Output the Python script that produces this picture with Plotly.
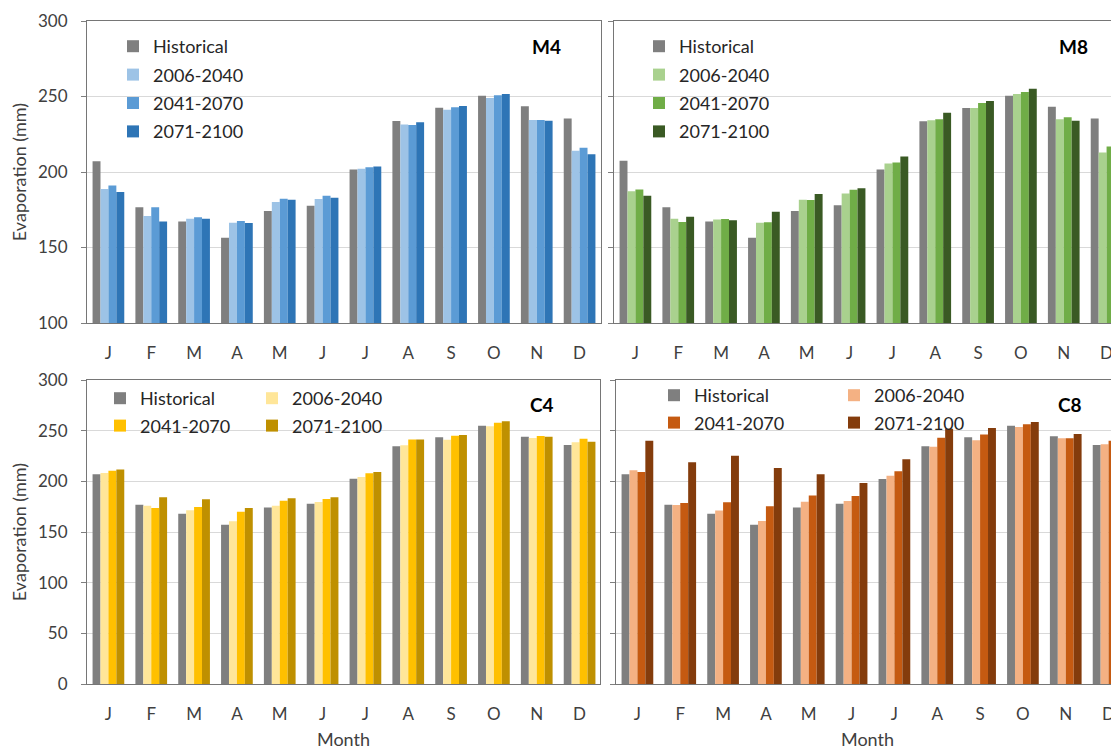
import plotly.graph_objects as go

months = ["J", "F", "M", "A", "M", "J", "J", "A", "S", "O", "N", "D"]
series_names = ["Historical", "2006-2040", "2041-2070", "2071-2100"]

# M4 panel
m4_hist = [207.2, 176.6, 167.3, 156.5, 174.1, 177.7, 201.6, 233.8, 242.6, 250.5, 243.5, 235.5]
m4_2006 = [188.7, 170.8, 169.1, 166.4, 180.1, 182.1, 202.1, 231.4, 241.3, 249.0, 234.4, 214.0]
m4_2041 = [191.1, 176.6, 170.0, 167.5, 182.3, 184.3, 203.2, 231.1, 242.8, 250.9, 234.4, 216.0]
m4_2071 = [186.7, 167.3, 169.1, 166.2, 181.6, 182.9, 203.6, 232.9, 243.7, 251.6, 234.0, 211.8]

# M8 panel
m8_hist = [207.4, 176.6, 167.3, 156.5, 174.1, 177.9, 201.6, 233.6, 242.4, 250.5, 243.2, 235.5]
m8_2006 = [187.3, 169.1, 168.6, 166.4, 181.6, 185.8, 205.6, 234.2, 242.4, 251.6, 234.9, 212.9]
m8_2041 = [188.4, 166.9, 168.9, 166.7, 181.4, 188.2, 206.3, 234.9, 245.7, 252.9, 236.2, 216.9]
m8_2071 = [184.3, 170.4, 168.0, 173.7, 185.4, 189.3, 210.2, 239.3, 247.0, 255.1, 234.0, 209.8]

# C4 panel
c4_hist = [206.9, 177.0, 168.1, 157.2, 174.3, 178.0, 202.6, 234.5, 243.4, 254.9, 244.1, 235.9]
c4_2006 = [208.2, 176.0, 171.4, 160.5, 176.0, 179.6, 204.3, 235.5, 241.1, 254.3, 242.8, 238.5]
c4_2041 = [210.5, 173.7, 174.7, 170.1, 180.9, 182.6, 207.9, 241.4, 245.1, 257.9, 244.7, 242.1]
c4_2071 = [211.8, 184.2, 182.2, 173.7, 183.2, 184.2, 209.2, 241.4, 245.7, 259.2, 244.1, 239.1]

# C8 panel
c8_hist = [206.9, 177.0, 168.1, 157.2, 174.3, 178.0, 202.3, 234.5, 243.4, 254.9, 244.4, 235.9]
c8_2006 = [210.9, 176.6, 171.1, 160.9, 179.9, 180.6, 205.6, 234.2, 240.5, 253.6, 242.4, 236.5]
c8_2041 = [209.2, 178.6, 179.3, 175.3, 185.9, 185.5, 209.9, 243.1, 246.1, 256.3, 242.4, 240.1]
c8_2071 = [240.1, 218.8, 225.3, 213.2, 206.9, 198.4, 221.7, 252.0, 252.6, 258.6, 246.7, 250.3]

panel_labels = ["M4", "M8", "C4", "C8"]
y_ticks_top = [100, 150, 200, 250, 300]
y_ticks_bottom = [0, 50, 100, 150, 200, 250, 300]

gray = "#7f7f7f"
colors = {
    "M4": [gray, "#9dc3e6", "#5b9bd5", "#2e75b6"],
    "M8": [gray, "#a9d18e", "#70ad47", "#3a5a24"],
    "C4": [gray, "#ffe699", "#ffc000", "#bf9000"],
    "C8": [gray, "#f4b183", "#c55a11", "#843c0c"],
}
data = {
    "M4": [m4_hist, m4_2006, m4_2041, m4_2071],
    "M8": [m8_hist, m8_2006, m8_2041, m8_2071],
    "C4": [c4_hist, c4_2006, c4_2041, c4_2071],
    "C8": [c8_hist, c8_2006, c8_2041, c8_2071],
}

# the page body adds an 8px offset; size the figure to fill the rest of the window
OFF = 8
W, H = 1119 - OFF, 750 - OFF
FONT = "Lato"
xpos = list(range(12))


def fx(px):
    return (px - OFF) / W


def fy(py):
    return (H - (py - OFF)) / H


# panel geometry (reference screenshot pixels)
panels = {
    "M4": dict(ax="", x0=87, x1=601, ytop=21, ybot=323, rng=[100, 300], ticks=y_ticks_top),
    "M8": dict(ax="2", x0=614, x1=1119, ytop=21, ybot=323, rng=[100, 300], ticks=y_ticks_top),
    "C4": dict(ax="3", x0=87, x1=600, ytop=380, ybot=684, rng=[0, 300], ticks=y_ticks_bottom),
    "C8": dict(ax="4", x0=616, x1=1119, ytop=380, ybot=684, rng=[0, 300], ticks=y_ticks_bottom),
}
catw = (601 - 87) / 12.0

legend_map = {
    "M4": ["legend", "legend", "legend", "legend"],
    "M8": ["legend2", "legend2", "legend2", "legend2"],
    "C4": ["legend3", "legend4", "legend3", "legend4"],
    "C8": ["legend5", "legend6", "legend5", "legend6"],
}

fig = go.Figure()
for name in panel_labels:
    p = panels[name]
    for i, s in enumerate(series_names):
        fig.add_trace(go.Bar(
            x=xpos, y=data[name][i], name=s,
            marker=dict(color=colors[name][i], line=dict(width=0)),
            xaxis="x" + p["ax"], yaxis="y" + p["ax"],
            legend=legend_map[name][i],
            legendgroup=name + s,
            showlegend=True,
        ))

layout = dict(
    width=W, height=H,
    margin=dict(l=0, r=0, t=0, b=0, autoexpand=False),
    paper_bgcolor="white", plot_bgcolor="white",
    barmode="group", bargap=0.26, bargroupgap=0,
    font=dict(family=FONT, size=16, color="#404040"),
    showlegend=True,
)

annotations = []
for name in panel_labels:
    p = panels[name]
    ax = p["ax"]
    right_panel = name in ("M8", "C8")
    width_px = p["x1"] - p["x0"]
    xr = [-0.5, -0.5 + width_px / catw]
    bottom = name in ("C4", "C8")
    layout["xaxis" + ax] = dict(
        domain=[fx(p["x0"]), min(1.0, fx(p["x1"]))],
        anchor="y" + ax,
        range=xr,
        automargin=False,
        tickmode="array", tickvals=xpos, ticktext=months,
        showline=True, linecolor="#767676", linewidth=1,
        mirror=True,
        ticks="", showgrid=False, zeroline=False,
        ticklabelstandoff=15,
        tickfont=dict(family=FONT, size=17, color="#404040"),
        title=dict(text="Month", font=dict(family=FONT, size=18, color="#404040"), standoff=11) if bottom else None,
        fixedrange=True,
    )
    layout["yaxis" + ax] = dict(
        domain=[fy(p["ybot"]), fy(p["ytop"])],
        anchor="x" + ax,
        range=p["rng"],
        automargin=False,
        tickmode="array", tickvals=p["ticks"],
        showticklabels=not right_panel,
        ticks="outside", ticklen=5, tickcolor="#7f7f7f",
        showline=True, linecolor="#767676", linewidth=1,
        mirror=not right_panel,
        showgrid=True, gridcolor="#d9d9d9", gridwidth=1,
        zeroline=False,
        ticklabelstandoff=10,
        tickfont=dict(family=FONT, size=17, color="#404040"),
        title=dict(text="Evaporation (mm)", font=dict(family=FONT, size=18, color="#404040"), standoff=8) if not right_panel else None,
        fixedrange=True,
    )

label_pos = {"M4": (546, 47), "M8": (1073, 47), "C4": (542, 404), "C8": (1070, 404)}
for name, (px, py) in label_pos.items():
    annotations.append(dict(
        x=fx(px), y=fy(py), xref="paper", yref="paper",
        text="<b>%s</b>" % name, showarrow=False,
        font=dict(family=FONT, size=19, color="#000000"),
        xanchor="center", yanchor="middle",
    ))
layout["annotations"] = annotations

leg_common = dict(
    bgcolor="rgba(0,0,0,0)", borderwidth=0,
    font=dict(family=FONT, size=18, color="#262626"),
    orientation="v", xanchor="left", yanchor="top",
    itemwidth=30, tracegroupgap=2, traceorder="grouped",
    itemclick=False, itemdoubleclick=False,
)


def leg(xpx, ypx, gap=2):
    d = dict(leg_common)
    d["x"] = fx(xpx)
    d["y"] = fy(ypx)
    d["tracegroupgap"] = gap
    return d


layout["legend"] = leg(113, 28)
layout["legend2"] = leg(639, 28)
layout["legend3"] = leg(100, 380, 1)
layout["legend4"] = leg(252, 380, 1)
layout["legend5"] = leg(654, 377, 1)
layout["legend6"] = leg(834, 377, 1)

fig.update_layout(**layout)
fig.write_html("out.html")
